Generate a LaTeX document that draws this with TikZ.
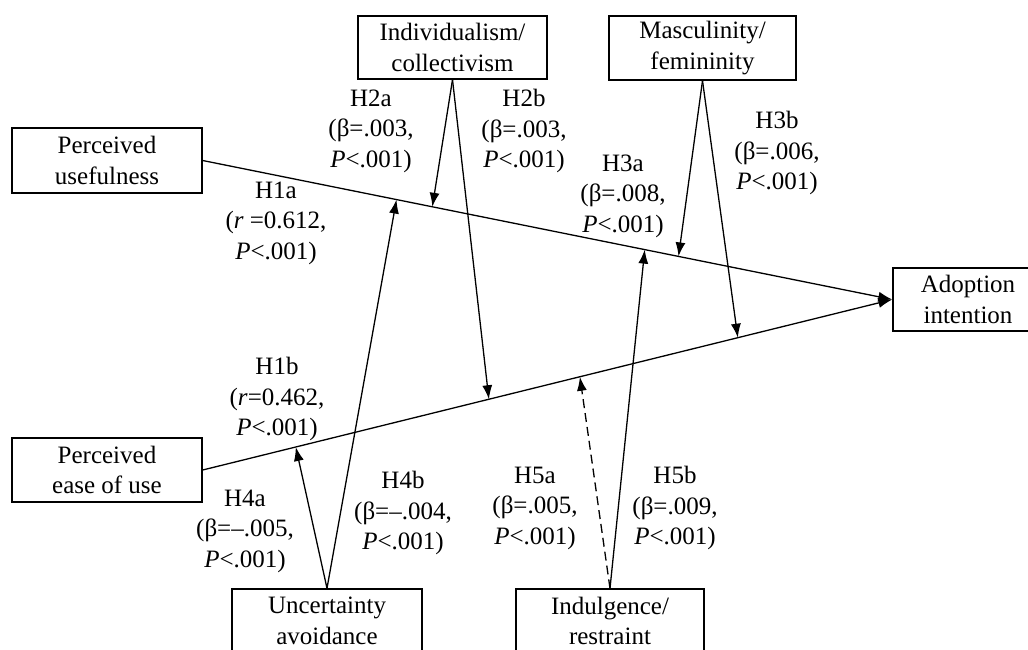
\documentclass[tikz,border=0pt]{standalone}
\usepackage{fontspec}
\setmainfont{Liberation Serif}
\usetikzlibrary{arrows.meta}
\begin{document}
\begin{tikzpicture}[x=1pt,y=-1pt,
    font=\fontsize{25}{30.5}\selectfont,
    box/.style={draw, line width=1.4pt, align=center, inner sep=0pt},
    lbl/.style={align=center, inner sep=0pt},
    hyp/.style={line width=1.3pt, -{Latex[length=14pt,width=10pt]}}]
    \clip (0,0) rectangle (1028,649);

    % constructs
    \node[box, minimum width=190pt, minimum height=65pt] (pu) at (107,160.5) {Perceived\\usefulness};
    \node[box, minimum width=190pt, minimum height=64pt] (peou) at (107,470) {Perceived\\ease of use};
    \node[box, minimum width=150pt, minimum height=63pt] (ai) at (968,299.5) {Adoption\\intention};
    \node[box, minimum width=189pt, minimum height=63pt] (ic) at (452.5,47.5) {Individualism/\\collectivism};
    \node[box, minimum width=187pt, minimum height=64pt] (mf) at (702.5,48) {Masculinity/\\femininity};
    \node[box, minimum width=190pt, minimum height=64pt] (ua) at (327,621) {Uncertainty\\avoidance};
    \node[box, minimum width=188pt, minimum height=64pt] (ir) at (610,621) {Indulgence/\\restraint};

    % main paths
    \draw[hyp] (pu.east) -- (ai.west);
    \draw[hyp] (peou.east) -- (ai.west);
    \path (pu.east) -- (ai.west) coordinate[pos=.281] (pu4b) coordinate[pos=.333] (pu2a)
        coordinate[pos=.641] (pu5b) coordinate[pos=.690] (pu3a);
    \path (peou.east) -- (ai.west) coordinate[pos=.135] (pe4a) coordinate[pos=.415] (pe2b)
        coordinate[pos=.547] (pe5a) coordinate[pos=.776] (pe3b);

    % moderators
    \draw[hyp] (ic.south) -- (pu2a);
    \draw[hyp] (ic.south) -- (pe2b);
    \draw[hyp] (mf.south) -- (pu3a);
    \draw[hyp] (mf.south) -- (pe3b);
    \draw[hyp] (ua.north) -- (pe4a);
    \draw[hyp] (ua.north) -- (pu4b);
    \draw[hyp, dash pattern=on 9pt off 5pt] (ir.north) -- (pe5a);
    \draw[hyp] (ir.north) -- (pu5b);

    % labels
    \node[lbl] (h1a) at (276,223) {H1a\\(\textit{r} =0.612,\\\textit{P}<.001)};
    \node[lbl] (h1b) at (277,399) {H1b\\(\textit{r}=0.462,\\\textit{P}<.001)};
    \node[lbl] (h2a) at (371,131) {H2a\\(β=.003,\\\textit{P}<.001)};
    \node[lbl] (h2b) at (524,131) {H2b\\(β=.003,\\\textit{P}<.001)};
    \node[lbl] (h3a) at (623,196) {H3a\\(β=.008,\\\textit{P}<.001)};
    \node[lbl] (h3b) at (777,153) {H3b\\(β=.006,\\\textit{P}<.001)};
    \node[lbl] (h4a) at (245,531) {H4a\\(β=–.005,\\\textit{P}<.001)};
    \node[lbl] (h4b) at (403,513) {H4b\\(β=–.004,\\\textit{P}<.001)};
    \node[lbl] (h5a) at (535,508) {H5a\\(β=.005,\\\textit{P}<.001)};
    \node[lbl] (h5b) at (675,508) {H5b\\(β=.009,\\\textit{P}<.001)};
\end{tikzpicture}
\end{document}
